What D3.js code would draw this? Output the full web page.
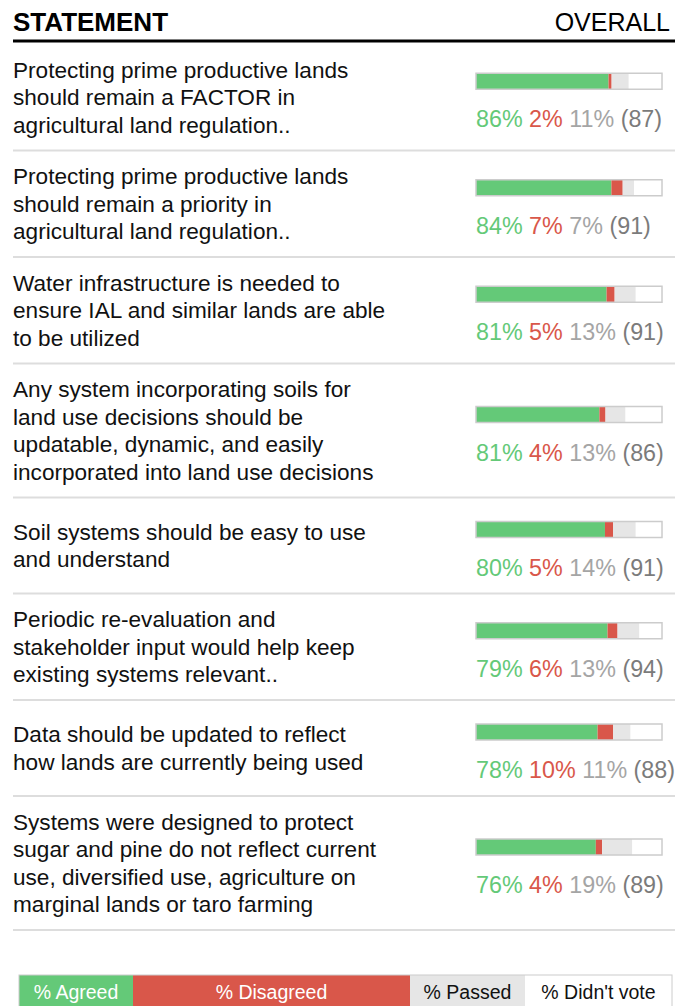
<!DOCTYPE html>
<html><head><meta charset="utf-8">
<script src="https://cdn.jsdelivr.net/npm/d3@7"></script>
<style>body{margin:0;background:#fff}svg{display:block}</style>
</head><body><svg id="c" width="675" height="1006"></svg>
<script>
// ---- data ----
const statements = [
  "Protecting prime productive lands|should remain a FACTOR in|agricultural land regulation..",
  "Protecting prime productive lands|should remain a priority in|agricultural land regulation..",
  "Water infrastructure is needed to|ensure IAL and similar lands are able|to be utilized",
  "Any system incorporating soils for|land use decisions should be|updatable, dynamic, and easily|incorporated into land use decisions",
  "Soil systems should be easy to use|and understand",
  "Periodic re-evaluation and|stakeholder input would help keep|existing systems relevant..",
  "Data should be updated to reflect|how lands are currently being used",
  "Systems were designed to protect|sugar and pine do not reflect current|use, diversified use, agriculture on|marginal lands or taro farming"
];
const agreed    = [86, 84, 81, 81, 80, 79, 78, 76];
const disagreed = [2, 7, 5, 4, 5, 6, 10, 4];
const passed    = [11, 7, 13, 13, 14, 13, 11, 19];
const votes     = [87, 91, 91, 86, 91, 94, 88, 89];
const participants = 105;
const legendLabels = ["% Agreed", "% Disagreed", "% Passed", "% Didn't vote"];

// ---- styles / layout ----
const C = {agree:"#64c978", disagree:"#d9574a", pass:"#e6e6e6", none:"#ffffff",
           passTxt:"#a5a5a5", countTxt:"#7b7b7b", border:"#cccccc", sep:"#dddddd"};
const FONT = "'Liberation Sans', Arial, Helvetica, sans-serif";
const W = 675, left = 13, lineH = 27.5, pad = 12, minBlock = 72, fs = 22.6, lfs = 23.3;
const barX0 = 476, barX1 = 662, barH = 16;

const svg = d3.select("#c").style("font-family", FONT);

// header
svg.append("text").attr("x", left).attr("y", 31).attr("font-size", 26)
  .attr("font-weight", "bold").attr("fill", "#000").text("STATEMENT");
svg.append("text").attr("x", 670).attr("y", 31).attr("font-size", 25)
  .attr("text-anchor", "end").attr("fill", "#000").text("OVERALL");
svg.append("line").attr("x1", left).attr("x2", W).attr("y1", 41).attr("y2", 41)
  .attr("stroke", "#000").attr("stroke-width", 3);

const x = d3.scaleLinear().domain([0, participants]).range([barX0, barX1]);

const rows = statements.map((s, i) => ({
  lines: s.split("|"), a: agreed[i], d: disagreed[i], p: passed[i], n: votes[i]
}));
let y0 = 44;
rows.forEach(r => {
  r.h = Math.max(r.lines.length * lineH, minBlock) + 2 * pad;
  r.top = y0; r.cy = y0 + r.h / 2; y0 += r.h;
});

const g = svg.selectAll("g.row").data(rows).join("g").attr("class", "row");

g.each(function(r) {
  const sel = d3.select(this);
  const n = r.lines.length;
  // statement text
  sel.selectAll("text.st").data(r.lines).join("text").attr("class", "st")
    .attr("x", left)
    .attr("y", (l, j) => r.cy + (j - (n - 1) / 2) * lineH + 8)
    .attr("font-size", fs).attr("fill", "#111").text(l => l);

  // bar
  const segs = [
    {v0: 0, v1: r.n * r.a / 100, c: C.agree},
    {v0: r.n * r.a / 100, v1: r.n * (r.a + r.d) / 100, c: C.disagree},
    {v0: r.n * (r.a + r.d) / 100, v1: r.n * (r.a + r.d + r.p) / 100, c: C.pass}
  ];
  const by = r.cy - 24;
  sel.append("rect").attr("x", x(0)).attr("y", by).attr("width", x(participants) - x(0))
    .attr("height", barH).attr("fill", C.none);
  sel.selectAll("rect.seg").data(segs).join("rect").attr("class", "seg")
    .attr("x", s => x(s.v0)).attr("y", by).attr("width", s => x(s.v1) - x(s.v0))
    .attr("height", barH).attr("fill", s => s.c);
  sel.append("rect").attr("x", x(0)).attr("y", by).attr("width", x(participants) - x(0))
    .attr("height", barH).attr("fill", "none").attr("stroke", C.border).attr("stroke-width", 1.5);

  // labels
  const t = sel.append("text").attr("x", x(0)).attr("y", r.cy + 30).attr("font-size", lfs);
  t.append("tspan").attr("fill", C.agree).text(r.a + "% ");
  t.append("tspan").attr("fill", C.disagree).text(r.d + "% ");
  t.append("tspan").attr("fill", C.passTxt).text(r.p + "% ");
  t.append("tspan").attr("fill", C.countTxt).text("(" + r.n + ")");

  // separator
  sel.append("line").attr("x1", left).attr("x2", W)
    .attr("y1", r.top + r.h).attr("y2", r.top + r.h)
    .attr("stroke", C.sep).attr("stroke-width", 2);
});

// legend
const legendW = [114, 277, 115, 147];
const lx = d3.scaleOrdinal().domain(legendLabels)
  .range(legendW.map((w, i) => 19 + d3.sum(legendW.slice(0, i))));
const lfill = [C.agree, C.disagree, C.pass, C.none];
const ltxt = ["#fff", "#fff", "#111", "#111"];
const lg = svg.append("g");
lg.selectAll("rect").data(legendLabels).join("rect")
  .attr("x", d => lx(d)).attr("y", 975).attr("width", (d, i) => legendW[i]).attr("height", 40)
  .attr("fill", (d, i) => lfill[i]);
lg.append("rect").attr("x", 19).attr("y", 975).attr("width", d3.sum(legendW)).attr("height", 40)
  .attr("fill", "none").attr("stroke", C.border).attr("stroke-width", 1);
lg.selectAll("text").data(legendLabels).join("text")
  .attr("x", (d, i) => lx(d) + legendW[i] / 2).attr("y", 999)
  .attr("text-anchor", "middle").attr("font-size", 19.5)
  .attr("fill", (d, i) => ltxt[i]).text(d => d);
</script></body></html>
